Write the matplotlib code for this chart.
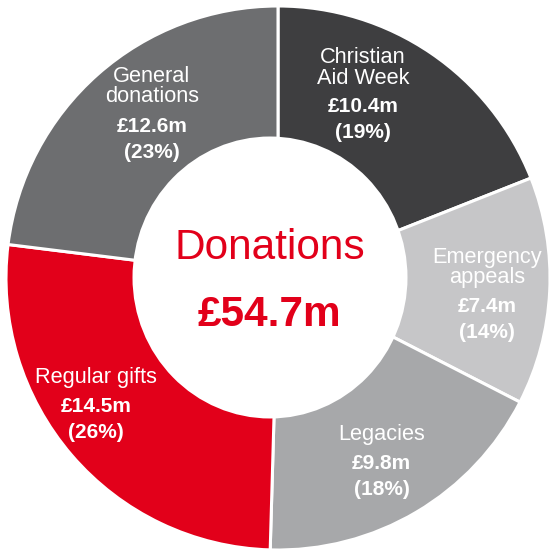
import matplotlib
matplotlib.use("Agg")
import matplotlib.pyplot as plt
from matplotlib.patches import Ellipse

plt.rcParams['font.family'] = ['Liberation Sans', 'DejaVu Sans']

# ---- data ----
categories = ["Christian\nAid Week", "Emergency\nappeals", "Legacies", "Regular gifts", "General\ndonations"]
values = [10.4, 7.4, 9.8, 14.5, 12.6]          # £m
value_labels = ["£10.4m", "£7.4m", "£9.8m", "£14.5m", "£12.6m"]
pct_labels = ["(19%)", "(14%)", "(18%)", "(26%)", "(23%)"]
total_label = "£54.7m"
center_title = "Donations"
colors = ["#3e3e40", "#c6c6c8", "#a7a8aa", "#e2001a", "#6d6e70"]

# ---- layout (pixel units) ----
W, H = 549, 551
fig = plt.figure(figsize=(W / 100, H / 100), dpi=100)
ax = fig.add_axes([0, 0, 1, 1])

def py(y):  # pixel-from-top -> data y
    return H - y

ax.pie(values, colors=colors, startangle=90, counterclock=False,
       radius=272, center=(278, py(278)), frame=True,
       wedgeprops=dict(edgecolor="white", linewidth=2.2))
ax.add_patch(Ellipse((270, py(277.5)), 275, 282, facecolor="white", edgecolor="none", zorder=5))

ax.set_xlim(0, W)
ax.set_ylim(0, H)
ax.set_aspect("equal")
ax.axis("off")

# label anchor: x center and first-line baseline
label_pos = [(363, 63), (487, 262.5), (381.5, 440), (96, 383), (152, 82)]
fs_name = 15.7
fs_val = 15
for (x, y0), name, v, p in zip(label_pos, categories, value_labels, pct_labels):
    lines = name.split("\n")
    y = y0
    for ln in lines:
        ax.text(x, py(y), ln, ha="center", va="baseline", fontsize=fs_name, color="white", zorder=6)
        y += 20.5
    y += 8.5
    ax.text(x, py(y), v, ha="center", va="baseline", fontsize=fs_val, color="white",
            fontweight="bold", zorder=6)
    y += 26
    ax.text(x, py(y), p, ha="center", va="baseline", fontsize=fs_val, color="white",
            fontweight="bold", zorder=6)

ax.text(270, py(259), center_title, ha="center", va="baseline", fontsize=30.5,
        color="#e2001a", zorder=6)
ax.text(269, py(326), total_label, ha="center", va="baseline", fontsize=30.5,
        color="#e2001a", fontweight="bold", zorder=6)

fig.savefig("out.png", dpi=100)
